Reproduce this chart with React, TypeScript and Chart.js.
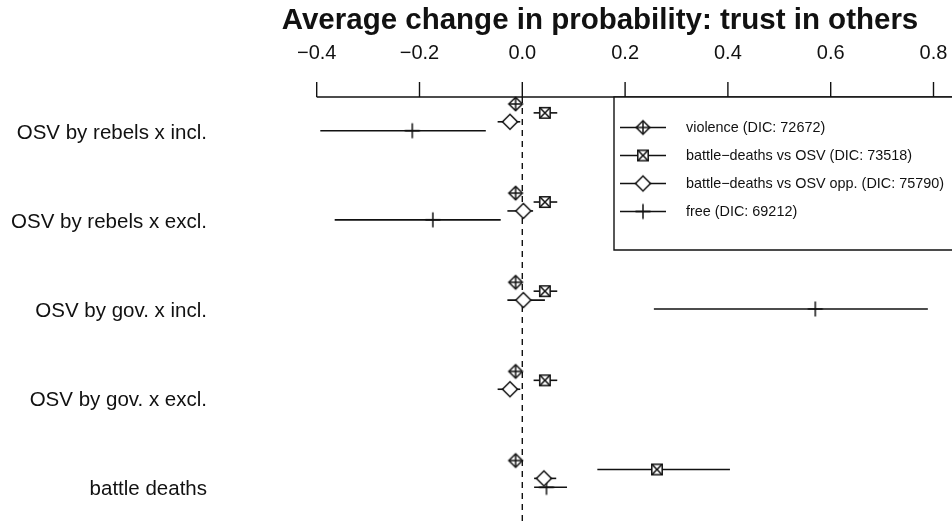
import React, { useEffect, useRef } from "react";
import { Chart, registerables } from "chart.js";

Chart.register(...registerables);

// Rows of the plot, top to bottom
const rowLabels = [
  "OSV by rebels x incl.",
  "OSV by rebels x excl.",
  "OSV by gov. x incl.",
  "OSV by gov. x excl.",
  "battle deaths",
];

// Model names shown in the legend
const seriesNames = [
  "violence (DIC: 72672)",
  "battle\u2212deaths vs OSV (DIC: 73518)",
  "battle\u2212deaths vs OSV opp. (DIC: 75790)",
  "free (DIC: 69212)",
];

// Vertical shift of each model inside a row (in row units)
const seriesOffsets = [-0.3, -0.2, -0.1, 0];

// Average change in probability with interval bounds, per row
const violenceMean = [-0.013, -0.013, -0.013, -0.013, -0.013];
const violenceLow = [-0.02, -0.02, -0.02, -0.02, -0.02];
const violenceHigh = [-0.006, -0.006, -0.006, -0.006, -0.006];

const bdOsvMean = [0.044, 0.044, 0.044, 0.044, 0.262];
const bdOsvLow = [0.022, 0.022, 0.022, 0.022, 0.146];
const bdOsvHigh = [0.068, 0.068, 0.068, 0.068, 0.404];

const bdOsvOppMean = [-0.024, 0.002, 0.002, -0.024, 0.042];
const bdOsvOppLow = [-0.048, -0.029, -0.029, -0.048, 0.023];
const bdOsvOppHigh = [-0.004, 0.021, 0.044, -0.004, 0.066];

const freeMean = [-0.214, -0.174, 0.57, null, 0.047];
const freeLow = [-0.393, -0.365, 0.256, null, 0.023];
const freeHigh = [-0.071, -0.042, 0.789, null, 0.087];

// Top axis ticks
const xTickValues = [-0.4, -0.2, 0.0, 0.2, 0.4, 0.6, 0.8];

const titleText = "Average change in probability: trust in others";

const FONT = "'Liberation Sans', Arial, Helvetica, sans-serif";
const INK = "#111";

type MarkerKind = "diamondPlus" | "boxX" | "diamond" | "plus";
const markerKinds: MarkerKind[] = ["diamondPlus", "boxX", "diamond", "plus"];

function makeMarker(kind: MarkerKind): HTMLCanvasElement {
  const size = 22;
  const c = document.createElement("canvas");
  c.width = size;
  c.height = size;
  const g = c.getContext("2d")!;
  const m = size / 2;
  g.strokeStyle = INK;
  g.fillStyle = "#fff";
  g.lineWidth = 1.5;
  if (kind === "diamondPlus" || kind === "diamond") {
    const r = kind === "diamond" ? 7.5 : 6.8;
    g.beginPath();
    g.moveTo(m, m - r);
    g.lineTo(m + r, m);
    g.lineTo(m, m + r);
    g.lineTo(m - r, m);
    g.closePath();
    g.fill();
    g.stroke();
    if (kind === "diamondPlus") {
      g.beginPath();
      g.moveTo(m, m - r);
      g.lineTo(m, m + r);
      g.moveTo(m - r, m);
      g.lineTo(m + r, m);
      g.stroke();
    }
  } else if (kind === "boxX") {
    const h = 5.2;
    g.beginPath();
    g.rect(m - h, m - h, 2 * h, 2 * h);
    g.fill();
    g.stroke();
    g.beginPath();
    g.moveTo(m - h, m - h);
    g.lineTo(m + h, m + h);
    g.moveTo(m + h, m - h);
    g.lineTo(m - h, m + h);
    g.stroke();
  } else {
    const h = 7.5;
    g.beginPath();
    g.moveTo(m, m - h);
    g.lineTo(m, m + h);
    g.moveTo(m - h, m);
    g.lineTo(m + h, m);
    g.stroke();
  }
  return c;
}

const seriesMeans = [violenceMean, bdOsvMean, bdOsvOppMean, freeMean];
const seriesLows = [violenceLow, bdOsvLow, bdOsvOppLow, freeLow];
const seriesHighs = [violenceHigh, bdOsvHigh, bdOsvOppHigh, freeHigh];

function fmtTick(v: number): string {
  return v.toFixed(1).replace("-", "\u2212");
}

export default function App() {
  const canvasRef = useRef<HTMLCanvasElement | null>(null);

  useEffect(() => {
    const canvas = canvasRef.current;
    if (!canvas) return;
    const markers = markerKinds.map(makeMarker);

    const decor = {
      id: "forestDecor",
      beforeDatasetsDraw(chart: any) {
        const { ctx, chartArea } = chart;
        const xs = chart.scales.x;
        const ys = chart.scales.y;
        ctx.save();
        ctx.strokeStyle = INK;
        ctx.lineWidth = 1.4;
        // dashed reference line at zero
        const x0 = xs.getPixelForValue(0);
        ctx.setLineDash([6, 5]);
        ctx.beginPath();
        ctx.moveTo(x0, chartArea.top);
        ctx.lineTo(x0, chartArea.bottom);
        ctx.stroke();
        ctx.setLineDash([]);
        // interval whiskers
        ctx.lineWidth = 1.6;
        seriesMeans.forEach((means, si) => {
          means.forEach((mv, ri) => {
            const lo = seriesLows[si][ri];
            const hi = seriesHighs[si][ri];
            if (mv == null || lo == null || hi == null) return;
            const py = ys.getPixelForValue(ri + seriesOffsets[si]);
            ctx.beginPath();
            ctx.moveTo(xs.getPixelForValue(lo), py);
            ctx.lineTo(xs.getPixelForValue(hi), py);
            ctx.stroke();
          });
        });
        ctx.restore();
      },
      afterDraw(chart: any) {
        const { ctx, chartArea } = chart;
        const xs = chart.scales.x;
        const ys = chart.scales.y;
        ctx.save();
        ctx.fillStyle = INK;
        ctx.strokeStyle = INK;

        // title
        ctx.font = `bold 29.5px ${FONT}`;
        ctx.textAlign = "center";
        ctx.textBaseline = "middle";
        ctx.fillText(titleText, 600, 21);

        // top axis
        const axisY = chartArea.top;
        ctx.lineWidth = 1.4;
        ctx.beginPath();
        ctx.moveTo(xs.getPixelForValue(xTickValues[0]), axisY);
        ctx.lineTo(chartArea.right, axisY);
        ctx.stroke();
        ctx.font = `20px ${FONT}`;
        xTickValues.forEach((v) => {
          const px = xs.getPixelForValue(v);
          ctx.beginPath();
          ctx.moveTo(px, axisY);
          ctx.lineTo(px, axisY - 15);
          ctx.stroke();
          ctx.fillText(fmtTick(v), px, 53);
        });

        // row labels
        ctx.font = `20.5px ${FONT}`;
        ctx.textAlign = "right";
        rowLabels.forEach((lab, ri) => {
          ctx.fillText(lab, 207, ys.getPixelForValue(ri) + 2.5);
        });

        // legend
        const lx = 614;
        const ly = axisY;
        ctx.lineWidth = 1.4;
        ctx.fillStyle = "#fff";
        ctx.fillRect(lx, ly, chartArea.right - lx + 10, 250 - ly);
        ctx.beginPath();
        ctx.moveTo(chartArea.right + 5, ly);
        ctx.lineTo(lx, ly);
        ctx.lineTo(lx, 250);
        ctx.lineTo(chartArea.right + 5, 250);
        ctx.stroke();
        ctx.fillStyle = INK;
        ctx.font = `14.4px ${FONT}`;
        ctx.textAlign = "left";
        seriesNames.forEach((name, si) => {
          const yy = 127.5 + si * 28;
          ctx.lineWidth = 1.6;
          ctx.beginPath();
          ctx.moveTo(620, yy);
          ctx.lineTo(666, yy);
          ctx.stroke();
          const mk = markers[si];
          ctx.drawImage(mk, 643 - mk.width / 2, yy - mk.height / 2);
          ctx.fillText(name, 686, yy + 1);
        });
        ctx.restore();
      },
    };

    const datasets = seriesMeans.map((means, si) => ({
      label: seriesNames[si],
      data: means
        .map((mv, ri) => (mv == null ? null : { x: mv, y: ri + seriesOffsets[si] }))
        .filter((p) => p !== null),
      pointStyle: markers[si],
      pointRadius: 8,
      showLine: false,
      clip: false as any,
    }));

    const chart = new Chart(canvas, {
      type: "scatter",
      data: { datasets: datasets as any },
      options: {
        animation: false,
        responsive: false,
        devicePixelRatio: 1,
        layout: { autoPadding: false, padding: { left: 316.7, top: 97, right: 0, bottom: 0 } },
        plugins: { legend: { display: false }, tooltip: { enabled: false }, title: { display: false } },
        events: [],
        scales: {
          x: { type: "linear", display: false, min: -0.4, max: 0.836 },
          y: { type: "linear", display: false, reverse: true, min: -0.378, max: 4.378 },
        },
      },
      plugins: [decor],
    });
    return () => chart.destroy();
  }, []);

  return (
    <div style={{ position: "fixed", left: 0, top: 0, width: 952, height: 521, background: "#fff" }}>
      <canvas ref={canvasRef} width={952} height={521} />
    </div>
  );
}
